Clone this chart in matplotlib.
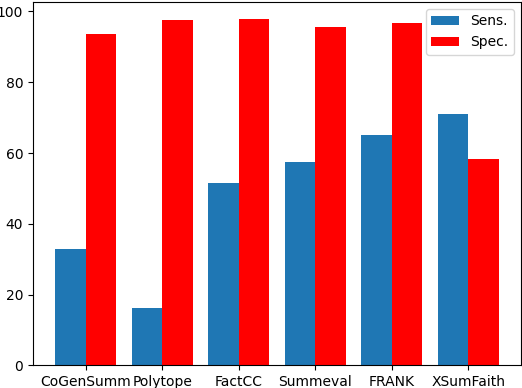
import matplotlib
matplotlib.use("Agg")
import matplotlib.pyplot as plt
import numpy as np

categories = ["CoGenSumm", "Polytope", "FactCC", "Summeval", "FRANK", "XSumFaith"]
sens = [32.9, 16.2, 51.5, 57.4, 65.1, 71.0]
spec = [93.6, 97.5, 97.8, 95.6, 96.7, 58.3]

fig, ax = plt.subplots(figsize=(5.22, 3.88), dpi=100)
x = np.arange(len(categories))
w = 0.4
ax.bar(x - w / 2, sens, w, color="#1f77b4", label="Sens.")
ax.bar(x + w / 2, spec, w, color="red", label="Spec.")
ax.set_xticks(x)
ax.set_xticklabels(categories)
ax.legend(loc="upper right")
fig.subplots_adjust(left=0.063, right=0.998, top=0.995, bottom=0.058)
fig.savefig("out.png", dpi=100)
